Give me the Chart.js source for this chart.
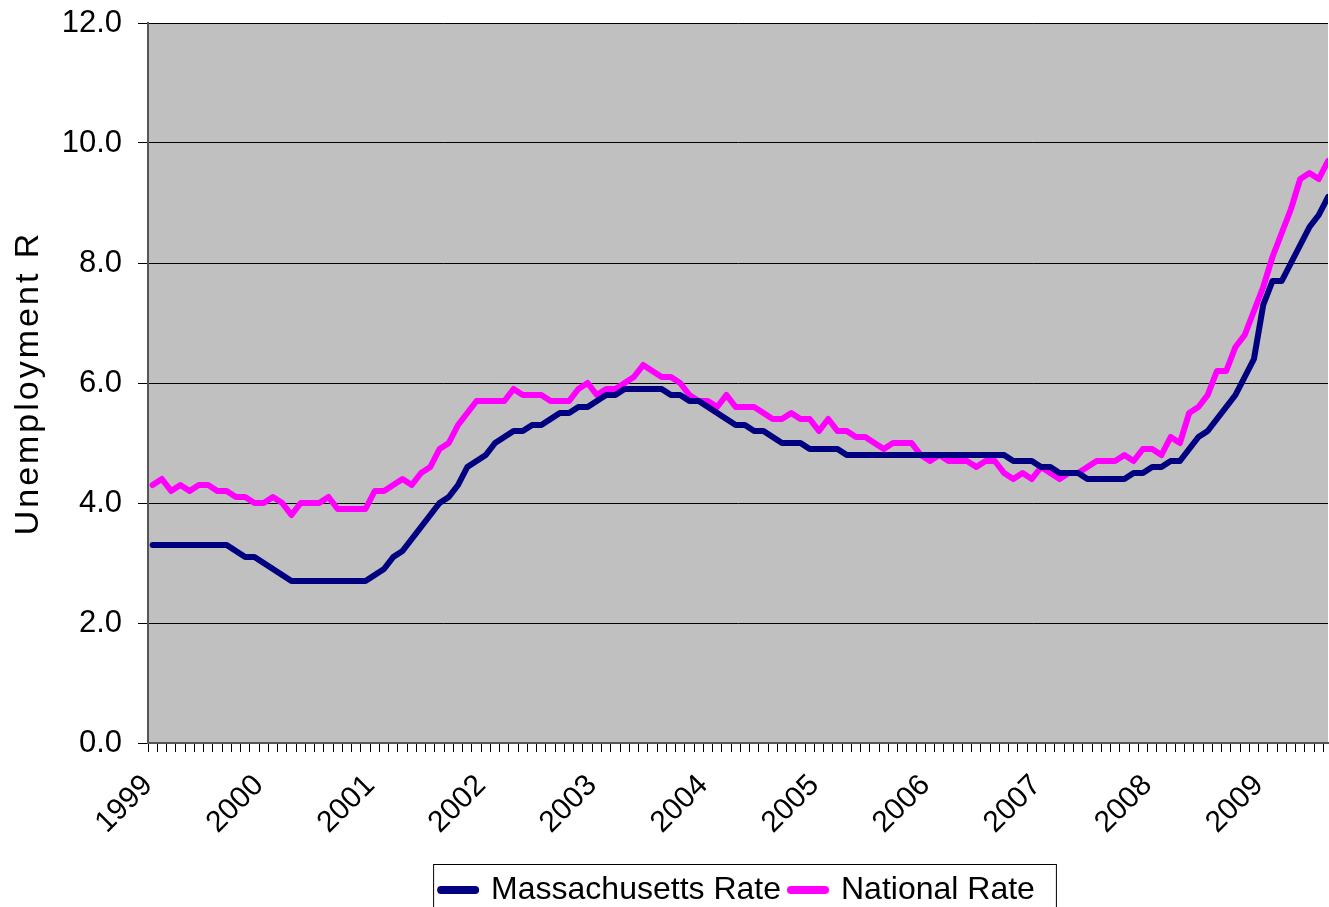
<!DOCTYPE html>
<html>
<head>
<meta charset="utf-8">
<title>Unemployment Rate</title>
<script src="https://cdn.jsdelivr.net/npm/chart.js@4.4.1/dist/chart.umd.min.js"></script>
<style>
  html, body { margin: 0; padding: 0; background: #fff; }
  #chart { display: block; }
</style>
</head>
<body>
<canvas id="chart" width="1329" height="907"></canvas>
<script>
// year labels, one per January (monthly data Jan 1999 .. Aug 2009)
const years = ['1999', '2000', '2001', '2002', '2003', '2004', '2005', '2006', '2007', '2008', '2009'];

const maRate = [
  3.3, 3.3, 3.3, 3.3, 3.3, 3.3, 3.3, 3.3, 3.3, 3.2, 3.1, 3.1,
  3.0, 2.9, 2.8, 2.7, 2.7, 2.7, 2.7, 2.7, 2.7, 2.7, 2.7, 2.7,
  2.8, 2.9, 3.1, 3.2, 3.4, 3.6, 3.8, 4.0, 4.1, 4.3, 4.6, 4.7,
  4.8, 5.0, 5.1, 5.2, 5.2, 5.3, 5.3, 5.4, 5.5, 5.5, 5.6, 5.6,
  5.7, 5.8, 5.8, 5.9, 5.9, 5.9, 5.9, 5.9, 5.8, 5.8, 5.7, 5.7,
  5.6, 5.5, 5.4, 5.3, 5.3, 5.2, 5.2, 5.1, 5.0, 5.0, 5.0, 4.9,
  4.9, 4.9, 4.9, 4.8, 4.8, 4.8, 4.8, 4.8, 4.8, 4.8, 4.8, 4.8,
  4.8, 4.8, 4.8, 4.8, 4.8, 4.8, 4.8, 4.8, 4.8, 4.7, 4.7, 4.7,
  4.6, 4.6, 4.5, 4.5, 4.5, 4.4, 4.4, 4.4, 4.4, 4.4, 4.5, 4.5,
  4.6, 4.6, 4.7, 4.7, 4.9, 5.1, 5.2, 5.4, 5.6, 5.8, 6.1, 6.4,
  7.3, 7.7, 7.7, 8.0, 8.3, 8.6, 8.8, 9.1
];

const nationalRate = [
  4.3, 4.4, 4.2, 4.3, 4.2, 4.3, 4.3, 4.2, 4.2, 4.1, 4.1, 4.0,
  4.0, 4.1, 4.0, 3.8, 4.0, 4.0, 4.0, 4.1, 3.9, 3.9, 3.9, 3.9,
  4.2, 4.2, 4.3, 4.4, 4.3, 4.5, 4.6, 4.9, 5.0, 5.3, 5.5, 5.7,
  5.7, 5.7, 5.7, 5.9, 5.8, 5.8, 5.8, 5.7, 5.7, 5.7, 5.9, 6.0,
  5.8, 5.9, 5.9, 6.0, 6.1, 6.3, 6.2, 6.1, 6.1, 6.0, 5.8, 5.7,
  5.7, 5.6, 5.8, 5.6, 5.6, 5.6, 5.5, 5.4, 5.4, 5.5, 5.4, 5.4,
  5.2, 5.4, 5.2, 5.2, 5.1, 5.1, 5.0, 4.9, 5.0, 5.0, 5.0, 4.8,
  4.7, 4.8, 4.7, 4.7, 4.7, 4.6, 4.7, 4.7, 4.5, 4.4, 4.5, 4.4,
  4.6, 4.5, 4.4, 4.5, 4.5, 4.6, 4.7, 4.7, 4.7, 4.8, 4.7, 4.9,
  4.9, 4.8, 5.1, 5.0, 5.5, 5.6, 5.8, 6.2, 6.2, 6.6, 6.8, 7.2,
  7.6, 8.1, 8.5, 8.9, 9.4, 9.5, 9.4, 9.7
];

const FONT = "'Liberation Sans', Arial, sans-serif";
const lastIdx = maRate.length - 1;

// grey plot area like the old spreadsheet chart
const plotBackground = {
  id: 'plotBackground',
  beforeDraw(chart) {
    const { ctx, chartArea: a } = chart;
    ctx.save();
    ctx.fillStyle = '#c0c0c0';
    ctx.fillRect(a.left, a.top, a.right - a.left, a.bottom - a.top);
    ctx.restore();

    // spaced-out axis title
    const ys = chart.scales.y;
    if (ys && !ys._spaced) {
      const orig = ys.drawTitle;
      ys.drawTitle = function () {
        this.ctx.save();
        this.ctx.letterSpacing = '3px';
        orig.call(this);
        this.ctx.restore();
      };
      ys._spaced = true;
    }
  }
};

// box around the legend, open at the bottom edge of the page
const legendFrame = {
  id: 'legendFrame',
  afterDraw(chart) {
    const boxes = chart.legend && chart.legend.legendHitBoxes;
    if (!boxes || !boxes.length) return;
    const first = boxes[0];
    const last = boxes[boxes.length - 1];
    const ctx = chart.ctx;
    ctx.save();
    ctx.strokeStyle = '#000';
    ctx.lineWidth = 1;
    ctx.strokeRect(first.left - 7.5, first.top - 9.5, last.left + last.width - first.left + 29, 60);
    ctx.restore();
  }
};

const toPoints = (arr) => arr.map((v, i) => ({ x: i, y: v }));

new Chart(document.getElementById('chart'), {
  type: 'line',
  data: {
    datasets: [
      {
        label: 'Massachusetts Rate',
        data: toPoints(maRate),
        borderColor: '#000080',
        backgroundColor: '#000080',
        borderWidth: 6,
        borderJoinStyle: 'round',
        borderCapStyle: 'round',
        pointRadius: 0,
        tension: 0
      },
      {
        label: 'National Rate',
        data: toPoints(nationalRate),
        borderColor: '#ff00ff',
        backgroundColor: '#ff00ff',
        borderWidth: 6,
        borderJoinStyle: 'round',
        borderCapStyle: 'round',
        pointRadius: 0,
        tension: 0
      }
    ]
  },
  options: {
    responsive: false,
    animation: false,
    devicePixelRatio: 1,
    layout: { padding: { top: 23, right: 1, left: 0, bottom: -9 } },
    plugins: {
      tooltip: { enabled: false },
      legend: {
        position: 'bottom',
        fullSize: false,
        labels: {
          color: '#000',
          font: { family: FONT, size: 32 },
          usePointStyle: true,
          pointStyle: 'line',
          pointStyleWidth: 34,
          padding: 10,
          generateLabels: (chart) =>
            Chart.defaults.plugins.legend.labels.generateLabels(chart)
              .map(l => ({ ...l, lineWidth: 8, lineCap: 'round', pointStyle: 'line' }))
        }
      }
    },
    scales: {
      x: {
        type: 'linear',
        min: -0.5,
        max: lastIdx,
        afterBuildTicks: (scale) => {
          const ticks = [];
          for (let k = 0; k <= lastIdx; k++) ticks.push({ value: k - 0.5 });
          scale.ticks = ticks;
        },
        afterFit: (scale) => {
          scale.height = 121;
          scale.paddingLeft = 0;
          scale.paddingRight = 0;
        },
        ticks: {
          autoSkip: false,
          minRotation: 45,
          maxRotation: 45,
          padding: 16,
          color: '#000',
          font: { family: FONT, size: 30 },
          callback: (v) => {
            const m = v + 0.5;
            return m % 12 === 0 ? years[m / 12] : '';
          }
        },
        grid: { drawOnChartArea: false, color: '#000', tickLength: 9, lineWidth: 1 },
        border: { color: '#555', width: 2 }
      },
      y: {
        min: 0,
        max: 12,
        afterFit: (scale) => {
          scale.width = 148;
          scale.paddingTop = 0;
          scale.paddingBottom = 0;
        },
        ticks: {
          stepSize: 2,
          padding: 16,
          color: '#000',
          font: { family: FONT, size: 31 },
          callback: (v) => v.toFixed(1)
        },
        grid: { color: '#000', lineWidth: 1, tickLength: 10 },
        border: { color: '#555', width: 2 },
        title: {
          display: true,
          text: 'Unemployment R',
          color: '#000',
          font: { family: FONT, size: 34 },
          padding: { top: 8, bottom: 0 }
        }
      }
    }
  },
  plugins: [plotBackground, legendFrame]
});
</script>
</body>
</html>
